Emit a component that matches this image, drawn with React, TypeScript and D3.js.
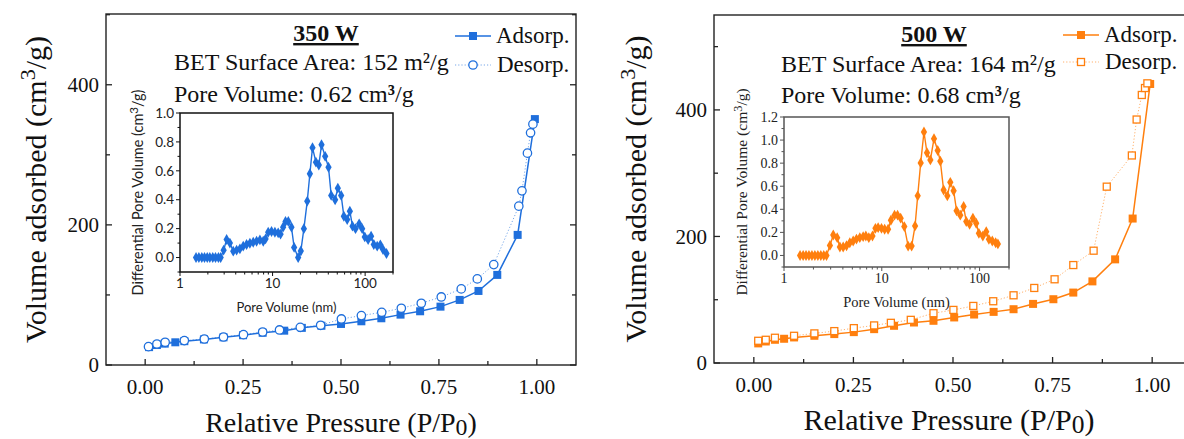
import React from 'react'
import * as d3 from 'd3'

// N2 isotherms, [P/P0, volume adsorbed cm3/g]
const ads350: [number, number][] = [
  [0.01, 25.5], [0.03, 28.5], [0.05, 30.5], [0.077, 32.4], [0.1, 34], [0.15, 36.5],
  [0.2, 39.5], [0.25, 42.5], [0.3, 46], [0.355, 49], [0.4, 53], [0.45, 56],
  [0.5, 58.6], [0.552, 62.4], [0.603, 66.7], [0.652, 71.9], [0.702, 76.7], [0.754, 83.3],
  [0.803, 92.9], [0.851, 105.7], [0.899, 128.6], [0.951, 185.7], [0.995, 351],
]
const des350: [number, number][] = [
  [0.0085, 26.2], [0.03, 30], [0.051, 32.4], [0.1, 34.8], [0.151, 37.1], [0.2, 40],
  [0.251, 43.3], [0.3, 47.1], [0.343, 50], [0.396, 53.8], [0.448, 56.7], [0.501, 65.7],
  [0.552, 70.5], [0.604, 75.2], [0.654, 81], [0.705, 88.1], [0.756, 97.1], [0.807, 108.6],
  [0.848, 122.9], [0.89, 143.3], [0.954, 226.7], [0.962, 248.6], [0.976, 302.4],
  [0.984, 331.4], [0.99, 343.8],
]
const ads500: [number, number][] = [
  [0.011, 31], [0.03, 34], [0.053, 36.7], [0.076, 38.3], [0.101, 40.4], [0.152, 43],
  [0.202, 45.7], [0.251, 48.8], [0.302, 53.5], [0.352, 58.8], [0.402, 64], [0.451, 66.7],
  [0.503, 72], [0.553, 76.6], [0.602, 80.8], [0.652, 85], [0.701, 93.4], [0.752, 100.8],
  [0.802, 111.3], [0.85, 129], [0.907, 163.8], [0.951, 228.3], [0.995, 441],
]
const des500: [number, number][] = [
  [0.011, 35.1], [0.03, 36.7], [0.053, 39.9], [0.101, 43], [0.152, 46.8], [0.202, 50.4],
  [0.251, 55.1], [0.302, 59.4], [0.344, 63.5], [0.394, 68.2], [0.451, 78.7], [0.501, 83.9],
  [0.551, 90.2], [0.601, 97.6], [0.652, 107], [0.704, 118.6], [0.755, 132.3], [0.802, 154.8],
  [0.853, 177.5], [0.886, 278.7], [0.949, 328], [0.961, 384.8], [0.974, 423.6],
  [0.982, 434.6], [0.988, 442],
]

// pore size distributions, [pore size nm, dV]
const psd350: [number, number][] = [
  [1.49, 0], [1.6, 0], [1.72, 0], [1.84, 0], [1.97, 0], [2.1, 0], [2.26, 0], [2.42, 0],
  [2.6, 0], [2.75, 0], [2.96, 0.051], [3.19, 0.125], [3.46, 0.1], [3.76, 0.044],
  [4.09, 0.051], [4.44, 0.06], [4.82, 0.079], [5.24, 0.09], [5.69, 0.099], [6.18, 0.106],
  [6.72, 0.113], [7.3, 0.122], [7.93, 0.113], [8.4, 0.129], [8.97, 0.175], [9.75, 0.18],
  [10.6, 0.175], [11.5, 0.171], [12.2, 0.162], [13, 0.21], [13.8, 0.25], [14.8, 0.25],
  [16, 0.21], [17.1, 0.07], [18.9, 0], [20.2, 0.045], [21.8, 0.2], [23.7, 0.39],
  [25.3, 0.58], [27, 0.76], [29.4, 0.66], [31.6, 0.64], [33.8, 0.78], [37, 0.7],
  [40.2, 0.625], [43, 0.43], [47.4, 0.4], [50.7, 0.48], [55.1, 0.43], [58.9, 0.286],
  [64, 0.263], [68.4, 0.32], [73, 0.217], [78.7, 0.2], [86.2, 0.233], [92.9, 0.2],
  [99.1, 0.143], [107.7, 0.125], [116, 0.148], [124, 0.09], [135, 0.079], [146, 0.088],
  [156, 0.055], [170, 0.028],
]
const psd500: [number, number][] = [
  [1.46, 0], [1.57, 0], [1.68, 0], [1.8, 0], [1.93, 0], [2.07, 0], [2.22, 0], [2.38, 0],
  [2.55, 0], [2.72, 0], [2.95, 0.087], [3.19, 0.177], [3.5, 0.154], [3.73, 0.073],
  [4.03, 0.073], [4.36, 0.084], [4.71, 0.11], [5.1, 0.125], [5.51, 0.142], [5.96, 0.154],
  [6.45, 0.163], [6.87, 0.169], [7.37, 0.154], [8.03, 0.169], [8.61, 0.235], [9.18, 0.241],
  [9.93, 0.235], [10.7, 0.227], [11.6, 0.227], [12.4, 0.305], [13.5, 0.349], [14.5, 0.349],
  [15.6, 0.323], [17, 0.25], [18.6, 0.081], [20.2, 0.081], [21.9, 0.256], [23.3, 0.517],
  [25, 0.802], [27, 1.07], [29, 0.89], [31.4, 0.828], [34.2, 1.012], [37.3, 0.91],
  [39.7, 0.817], [42.9, 0.567], [46.8, 0.517], [50.2, 0.634], [54.3, 0.561], [58.2, 0.387],
  [63.5, 0.349], [68.7, 0.424], [73.1, 0.294], [79.1, 0.27], [85.5, 0.323], [92.4, 0.279],
  [98.4, 0.192], [108, 0.169], [117, 0.206], [124.5, 0.14], [135, 0.125], [146, 0.11],
  [154, 0.1],
]

const xTicks = [0, 0.25, 0.5, 0.75, 1]
const xMinor = [0.125, 0.375, 0.625, 0.875]
const yTicks = [0, 200, 400]
const yMinor = [100, 300, 500]
const insetXTicks = [1, 10, 100]
const insetXMinor = [2, 3, 4, 5, 6, 7, 8, 9, 20, 30, 40, 50, 60, 70, 80, 90, 200]

const BLUE = '#1f6fdc'
const ORANGE = '#ff7f0e'
const SERIF = '"Liberation Serif", "Times New Roman", serif'
const SANS = 'Lato, "Noto Sans", sans-serif'

type Cfg = {
  fx0: number; fx1: number; fy0: number; fy1: number; yTop: number
  color: string; ads: [number, number][]; des: [number, number][]; openShape: 'circle' | 'square'
  title: string; bet: string; pore: string; textX: number; titleX: number; titleY: number; betY: number; poreY: number
  legX: number; legY1: number; legY2: number
  xLabelY: number; xLabelSize: number; yLabelX: number
  psd: [number, number][]; ix0: number; ix1: number; iy0: number; iy1: number; iyTop: number
  iyTicks: number[]; iyMinor: number[]; iFont: string; iFrame: string
  iLabelSize: number; iYLabelSize: number; iTickSize: number
}

function Marker({ shape, x, y, color, open }: { shape: string; x: number; y: number; color: string; open: boolean }) {
  if (shape === 'circle') {
    return <circle cx={x} cy={y} r={4.2} fill={open ? '#fff' : color} stroke={color} strokeWidth={1.3} />
  }
  const s = open ? 7 : 8
  return <rect x={x - s / 2} y={y - s / 2} width={s} height={s} fill={open ? '#fff' : color} stroke={color} strokeWidth={open ? 1.3 : 0} />
}

function Panel({ c }: { c: Cfg }) {
  const x = d3.scaleLinear().domain([-0.1, 1.1]).range([c.fx0, c.fx1])
  const y = d3.scaleLinear().domain([0, c.yTop]).range([c.fy1, c.fy0])
  const line = d3.line<[number, number]>().x(d => x(d[0])).y(d => y(d[1]))

  const ix = d3.scaleLog().domain([1, 200]).range([c.ix0, c.ix1])
  const iy = d3.scaleLinear().domain([-0.1, c.iyTop]).range([c.iy1, c.iy0])
  const iline = d3.line<[number, number]>().x(d => ix(d[0])).y(d => iy(d[1]))
  const diamond = d3.symbol().type(d3.symbolDiamond).size(34)()

  const xMid = (c.fx0 + Math.min(c.fx1, 1184)) / 2
  const yMid = (c.fy0 + c.fy1) / 2
  const iMidX = (c.ix0 + c.ix1) / 2
  const iMidY = (c.iy0 + c.iy1) / 2

  return (
    <g>
      {/* main frame */}
      <rect x={c.fx0} y={c.fy0} width={c.fx1 - c.fx0} height={c.fy1 - c.fy0} fill="none" stroke="#222" strokeWidth={1.4} />
      {xTicks.map(t => (
        <g key={'xt' + t}>
          <line x1={x(t)} x2={x(t)} y1={c.fy1} y2={c.fy1 - 6} stroke="#222" strokeWidth={1.3} />
          <text x={x(t)} y={c.fy1 + 29} textAnchor="middle" fontSize={21} fontFamily={SERIF} fill="#111">{t.toFixed(2)}</text>
        </g>
      ))}
      {xMinor.map(t => (
        <line key={'xm' + t} x1={x(t)} x2={x(t)} y1={c.fy1} y2={c.fy1 - 4} stroke="#222" strokeWidth={1.3} />
      ))}
      {yTicks.map(t => (
        <g key={'yt' + t}>
          <line x1={c.fx0} x2={c.fx0 + 6} y1={y(t)} y2={y(t)} stroke="#222" strokeWidth={1.3} />
          <line x1={c.fx1} x2={c.fx1 - 6} y1={y(t)} y2={y(t)} stroke="#222" strokeWidth={1.3} />
          <text x={c.fx0 - 7} y={y(t)} dy="0.35em" textAnchor="end" fontSize={21} fontFamily={SERIF} fill="#111">{t}</text>
        </g>
      ))}
      {yMinor.filter(t => t < c.yTop).map(t => (
        <g key={'ym' + t}>
          <line x1={c.fx0} x2={c.fx0 + 4} y1={y(t)} y2={y(t)} stroke="#222" strokeWidth={1.3} />
          <line x1={c.fx1} x2={c.fx1 - 4} y1={y(t)} y2={y(t)} stroke="#222" strokeWidth={1.3} />
        </g>
      ))}
      <text x={xMid} y={c.xLabelY} textAnchor="middle" fontSize={c.xLabelSize} fontFamily={SERIF} fill="#111">
        Relative Pressure (P/P<tspan fontSize={c.xLabelSize * 0.85} dy={3}>0</tspan><tspan dy={-3}>)</tspan>
      </text>
      <text transform={`translate(${c.yLabelX},${yMid}) rotate(-90)`} textAnchor="middle" fontSize={30} fontFamily={SERIF} fill="#111">
        Volume adsorbed (cm<tspan fontSize={22} dy={-11}>3</tspan><tspan dy={11}>/g)</tspan>
      </text>

      {/* annotations */}
      <text x={c.titleX} y={c.titleY} textAnchor="middle" fontSize={24} fontWeight="bold" textDecoration="underline" fontFamily={SERIF} fill="#111">{c.title}</text>
      <text x={c.textX} y={c.betY} fontSize={24} fontFamily={SERIF} fill="#111">{c.bet}</text>
      <text x={c.textX} y={c.poreY} fontSize={24} fontFamily={SERIF} fill="#111">
        {c.pore}<tspan fontWeight="bold">³</tspan>/g
      </text>

      {/* legend */}
      <line x1={c.legX - 18} x2={c.legX + 18} y1={c.legY1} y2={c.legY1} stroke={c.color} strokeWidth={1.5} />
      <Marker shape="square" x={c.legX} y={c.legY1} color={c.color} open={false} />
      <text x={c.legX + 23} y={c.legY1 + 7} fontSize={23} fontFamily={SERIF} fill="#111">Adsorp.</text>
      <line x1={c.legX - 18} x2={c.legX + 18} y1={c.legY2} y2={c.legY2} stroke={c.color} strokeWidth={1} strokeDasharray="1.2 2" opacity={0.6} />
      <Marker shape={c.openShape} x={c.legX} y={c.legY2} color={c.color} open={true} />
      <text x={c.legX + 24} y={c.legY2 + 7} fontSize={23} fontFamily={SERIF} fill="#111">Desorp.</text>

      {/* isotherms */}
      <path d={line(c.des) || ''} fill="none" stroke={c.color} strokeWidth={1} strokeDasharray="1.2 2" opacity={0.6} />
      <path d={line(c.ads) || ''} fill="none" stroke={c.color} strokeWidth={1.5} />
      {c.ads.map((d, i) => <Marker key={'a' + i} shape="square" x={x(d[0])} y={y(d[1])} color={c.color} open={false} />)}
      {c.des.map((d, i) => <Marker key={'d' + i} shape={c.openShape} x={x(d[0])} y={y(d[1])} color={c.color} open={true} />)}

      {/* inset */}
      <rect x={c.ix0} y={c.iy0} width={c.ix1 - c.ix0} height={c.iy1 - c.iy0} fill="#fff" stroke={c.iFrame} strokeWidth={1.5} />
      {c.iyTicks.map(t => (
        <g key={'iy' + t}>
          <line x1={c.ix0} x2={c.ix0 - 4} y1={iy(t)} y2={iy(t)} stroke={c.iFrame} strokeWidth={1} />
          <text x={c.ix0 - 6} y={iy(t)} dy="0.35em" textAnchor="end" fontSize={c.iTickSize} fontFamily={c.iFont} fill="#222">{t.toFixed(1)}</text>
        </g>
      ))}
      {c.iyMinor.map(t => (
        <line key={'iym' + t} x1={c.ix0} x2={c.ix0 - 2.5} y1={iy(t)} y2={iy(t)} stroke={c.iFrame} strokeWidth={1} />
      ))}
      {insetXTicks.map(t => (
        <g key={'ix' + t}>
          <line x1={ix(t)} x2={ix(t)} y1={c.iy1} y2={c.iy1 + 4} stroke={c.iFrame} strokeWidth={1} />
          <text x={ix(t)} y={c.iy1 + 16} textAnchor="middle" fontSize={c.iTickSize} fontFamily={c.iFont} fill="#222">{t}</text>
        </g>
      ))}
      {insetXMinor.map(t => (
        <line key={'ixm' + t} x1={ix(t)} x2={ix(t)} y1={c.iy1} y2={c.iy1 + 2.5} stroke={c.iFrame} strokeWidth={1} />
      ))}
      <text x={iMidX} y={c.iy1 + 40} textAnchor="middle" fontSize={c.iLabelSize} fontFamily={c.iFont} fill="#222">Pore Volume (nm)</text>
      <text transform={`translate(${c.ix0 - 37},${iMidY}) rotate(-90)`} textAnchor="middle" fontSize={c.iYLabelSize} fontFamily={c.iFont} fill="#222">
        Differential Pore Volume (cm<tspan fontSize={c.iYLabelSize * 0.8} dy={-5}>3</tspan><tspan dy={5}>/g)</tspan>
      </text>
      <path d={iline(c.psd) || ''} fill="none" stroke={c.color} strokeWidth={1.4} />
      {c.psd.map((d, i) => (
        <path key={'p' + i} d={diamond || ''} transform={`translate(${ix(d[0])},${iy(d[1])})`} fill={c.color} />
      ))}
    </g>
  )
}

const left: Cfg = {
  fx0: 106, fx1: 576, fy0: 14, fy1: 365, yTop: 501,
  color: BLUE, ads: ads350, des: des350, openShape: 'circle',
  title: '350 W', bet: 'BET Surface Area: 152 m²/g', pore: 'Pore Volume: 0.62 cm',
  textX: 174, titleX: 326, titleY: 41, betY: 70, poreY: 102,
  legX: 473, legY1: 36, legY2: 65,
  xLabelY: 432, xLabelSize: 28, yLabelX: 46,
  psd: psd350, ix0: 180, ix1: 393, iy0: 113, iy1: 272, iyTop: 1.0,
  iyTicks: [0, 0.2, 0.4, 0.6, 0.8, 1.0], iyMinor: [-0.1, 0.1, 0.3, 0.5, 0.7, 0.9],
  iFont: SANS, iFrame: '#111', iLabelSize: 13, iYLabelSize: 14.5, iTickSize: 13.5,
}

const right: Cfg = {
  fx0: 714, fx1: 1192, fy0: 15, fy1: 363, yTop: 550,
  color: ORANGE, ads: ads500, des: des500, openShape: 'square',
  title: '500 W', bet: 'BET Surface Area: 164 m²/g', pore: 'Pore Volume: 0.68 cm',
  textX: 781, titleX: 934, titleY: 42, betY: 72, poreY: 103,
  legX: 1081, legY1: 35, legY2: 62,
  xLabelY: 430, xLabelSize: 30, yLabelX: 646,
  psd: psd500, ix0: 784, ix1: 1009, iy0: 117, iy1: 267, iyTop: 1.2,
  iyTicks: [0, 0.2, 0.4, 0.6, 0.8, 1.0, 1.2], iyMinor: [-0.1, 0.1, 0.3, 0.5, 0.7, 0.9, 1.1],
  iFont: SERIF, iFrame: '#555', iLabelSize: 14.5, iYLabelSize: 15.5, iTickSize: 14,
}

export default function App() {
  return (
    <svg width={1184} height={439} style={{ position: 'absolute', left: 0, top: 0, background: '#fff' }}>
      <rect width={1184} height={439} fill="#fff" />
      <Panel c={left} />
      <Panel c={right} />
    </svg>
  )
}
